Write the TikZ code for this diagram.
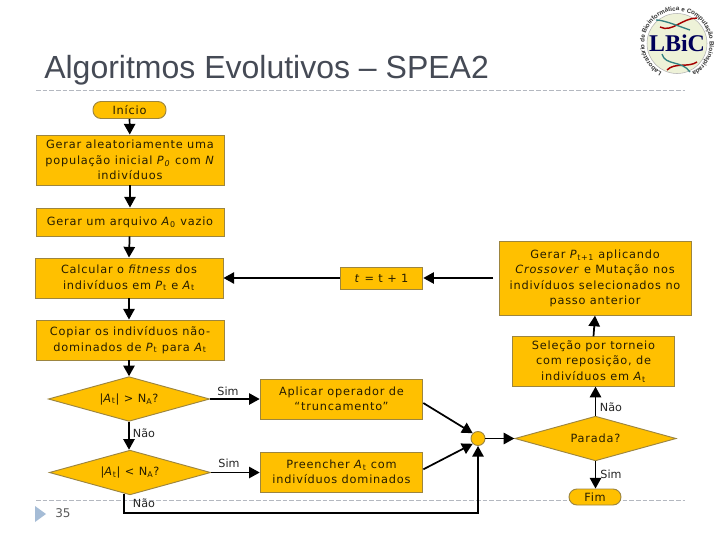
\documentclass[tikz,border=0pt]{standalone}
\usepackage{fontspec}
\setmainfont[LetterSpace=7]{DejaVu Sans}
\newfontfamily\plainfont{DejaVu Sans}
\newfontfamily\titlefont{Liberation Sans}
\newfontfamily\logofont{Liberation Serif}
\usetikzlibrary{shapes.geometric,arrows.meta,decorations.text}
\definecolor{boxfill}{HTML}{FFC000}
\definecolor{boxline}{HTML}{9C8540}
\definecolor{titlec}{HTML}{454A55}
\definecolor{dashc}{HTML}{B4B8C0}
\definecolor{triac}{HTML}{A5BCD6}
\definecolor{logobg}{HTML}{EEF2D8}
\tikzset{
  x=0.75pt,y=-0.75pt,
  txt/.style={font=\fontsize{8.5pt}{11.6pt}\selectfont,align=center,inner sep=0pt,text=black!85!boxfill},
  proc/.style={txt,draw=boxline,fill=boxfill,line width=0.7pt,minimum width=#1},
  term/.style={txt,draw=boxline,fill=boxfill,line width=0.7pt,rounded corners=6pt,minimum width=#1},
  deci/.style={txt,draw=boxline,fill=boxfill,line width=0.7pt,diamond,aspect=3.6,minimum width=#1,minimum height=33.5pt},
  lab/.style={font=\fontsize{8.4pt}{9pt}\plainfont,inner sep=0pt,text=black!85},
  conn/.style={line width=1.3pt,-{Triangle[length=8pt,width=8.5pt]}},
  hr/.style={dashc,dash pattern=on 3.5pt off 1.5pt,line width=0.6pt}
}
\begin{document}
\begin{tikzpicture}
\useasboundingbox (0,0) rectangle (720,540);
\fill[white] (0,0) rectangle (720,540);
% title and rules
\node[anchor=west,inner sep=0pt,font=\fontsize{24pt}{26pt}\titlefont,text=titlec] (title) at (44,70) {Algoritmos Evolutivos – SPEA2};
\draw[hr] (36,90) -- (685,90);
\draw[hr] (36,500) -- (685,500);
\fill[triac] (35,506) -- (46,514) -- (35,522) -- cycle;
\node[font=\fontsize{9pt}{10pt}\plainfont,text=black!65,inner sep=0pt] (page) at (63,513) {35};
% logo
\fill[logobg] (677,43.5) circle (30);
\draw[black!30,line width=0.4pt] (677,43.5) circle (30);
\draw[line width=1.1pt,red!65!black] (660,27) .. controls (672,33) and (682,18) .. (697,18);
\draw[line width=1.1pt,red!65!black] (667,70) .. controls (675,62) and (688,68) .. (697,62);
\draw[line width=1pt,teal!60!gray] (656,20) .. controls (664,20) and (678,26) .. (690,30);
\draw[line width=1pt,teal!60!gray] (662,54) .. controls (665,66) and (682,60) .. (690,72);
\node[font=\fontsize{18pt}{18pt}\logofont\bfseries,text=blue!35!black,inner sep=0pt] (logo) at (677,43) {LBiC};
\path[decorate,decoration={text along path,text align=center,
  text={|\fontsize{4.7pt}{5pt}\titlefont\bfseries\color{black!80}|Laboratório de Bioinformática e Computação Bioinspirada}}]
  (671.3,75.7) arc[start angle=-100,delta angle=-340,radius=24.5pt];
% nodes
\node[term=54.75pt,minimum height=12.75pt] (ini) at (129.5,110) {Início};
\node[proc=141pt,minimum height=37.5pt] (ger) at (130,160) {Gerar aleatoriamente uma\\população inicial \textit{P}\textsubscript{\textit{0}} com \textit{N}\\indivíduos};
\node[proc=141pt,minimum height=21pt] (arq) at (130,222) {Gerar um arquivo \textit{A}\textsubscript{0} vazio};
\node[proc=141pt,minimum height=30pt] (cal) at (129,278) {Calcular o \textit{fitness} dos\\indivíduos em \textit{P}\textsubscript{t} e \textit{A}\textsubscript{t}};
\node[proc=62pt,minimum height=16.5pt] (inc) at (381.5,278) {\textit{t} = t + 1};
\node[proc=144pt,minimum height=55pt] (pt1) at (595,278.5) {Gerar \textit{P}\textsubscript{t+1} aplicando\\\textit{Crossover} e Mutação nos\\indivíduos selecionados no\\passo anterior};
\node[proc=141pt,minimum height=30pt] (cop) at (130,340) {Copiar os indivíduos não-\\dominados de \textit{P}\textsubscript{t} para \textit{A}\textsubscript{t}};
\node[proc=122pt,minimum height=37pt] (sel) at (593.5,361.5) {Seleção por torneio\\com reposição, de\\indivíduos em \textit{A}\textsubscript{t}};
\node[deci=121pt] (d1) at (129,399) {|\textit{A}\textsubscript{t}| > N\textsubscript{A}?};
\node[proc=122pt,minimum height=30pt] (apl) at (341.5,399) {Aplicar operador de\\“truncamento”};
\node[deci=121pt] (d2) at (130,472.5) {|\textit{A}\textsubscript{t}| < N\textsubscript{A}?};
\node[proc=122pt,minimum height=30pt] (pre) at (341.5,472) {Preencher \textit{A}\textsubscript{t} com\\indivíduos dominados};
\node[circle,draw=boxline,fill=boxfill,line width=0.7pt,minimum size=10.5pt,inner sep=0pt] (j) at (478,438.5) {};
\node[deci=121pt] (par) at (595.5,438.5) {Parada?};
\node[term=39pt,minimum height=12pt] (fim) at (595,497) {Fim};
% connectors
\draw[conn] (ini) -- (ger);
\draw[conn] (ger) -- (arq);
\draw[conn] (arq) -- (cal.north);
\draw[conn] (cal.south) -- (cal.south |- cop.north);
\draw[conn] (cop.south -| d1.north) -- (d1.north);
\draw[conn] (d1.south) -- (d1.south |- d2.north);
\draw[conn] (d1.east) -- (apl.west);
\draw[conn] (d2.east) -- (d2.east -| pre.west);
\draw[conn] (inc.west) -- (inc.west -| cal.east);
\coordinate (pt1out) at (493,278);
\draw[conn] (pt1out) -- (inc.east);
\draw[conn] (sel.north) -- (pt1.south);
\draw[conn] (par.north) -- (par.north |- sel.south);
\draw[conn] (par.south) -- (par.south |- fim.north);
\draw[conn] (j.east) -- (par.west);
\draw[conn] ([yshift=-3pt]apl.east) -- (j.north west);
\draw[conn] ([yshift=2pt]pre.east) -- (j.south west);
\coordinate (c0) at (124,494);
\coordinate (c1) at (124,513);
\coordinate (c2) at (478,513);
\draw[conn] (c0) -- (c1) -- (c2) -- (j.south);
% labels
\node[lab] (s1) at (228,391) {Sim};
\node[lab] (s2) at (229,463) {Sim};
\node[lab] (n1) at (144,433) {Não};
\node[lab] (n2) at (144,503) {Não};
\node[lab] (n3) at (611,407) {Não};
\node[lab] (s3) at (611,474) {Sim};
\end{tikzpicture}
\end{document}
